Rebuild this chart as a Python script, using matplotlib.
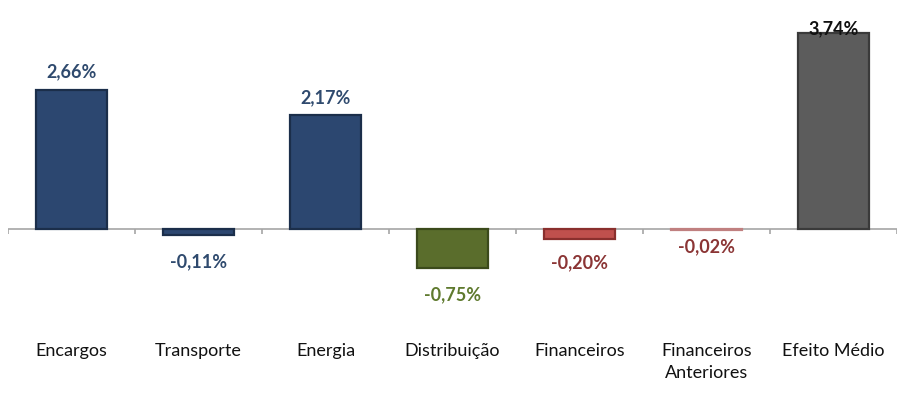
import matplotlib
matplotlib.use("Agg")
import matplotlib.pyplot as plt

categories = ["Encargos", "Transporte", "Energia", "Distribuição", "Financeiros",
              "Financeiros\nAnteriores", "Efeito Médio"]
values = [2.66, -0.11, 2.17, -0.75, -0.20, -0.02, 3.74]
labels = ["2,66%", "-0,11%", "2,17%", "-0,75%", "-0,20%", "-0,02%", "3,74%"]

bar_colors = ["#2C4770", "#2C4770", "#2C4770", "#5A6D2C", "#C0504D", "#D9A3A2", "#5C5C5C"]
edge_colors = ["#1B2E4A", "#1B2E4A", "#1B2E4A", "#3B4A1B", "#8A2F2D", "#C08080", "#3A3A3A"]
text_colors = ["#2F4A6E", "#2F4A6E", "#2F4A6E", "#5F7A2E", "#8B3535", "#8B3535", "#111111"]

plt.rcParams['font.family'] = ['Lato', 'DejaVu Sans']

fig = plt.figure(figsize=(9.08, 4.03), dpi=100)
ax = fig.add_axes([8/908, 0.1593, 889/908, 0.9509 - 0.1593])

x = list(range(len(categories)))
ax.bar(x, values, width=0.56, color=bar_colors, edgecolor=edge_colors, linewidth=1.6, zorder=3)

ax.set_xlim(-0.5, len(categories) - 0.5)
ax.set_ylim(-2.1, 4.0)
for s in ax.spines.values():
    s.set_visible(False)
ax.axhline(0, color="#A6A6A6", linewidth=1.2, zorder=2)
ax.vlines([i - 0.5 for i in range(len(categories) + 1)], -0.1, 0, color="#A6A6A6", linewidth=1.2, zorder=2)
ax.set_yticks([])
ax.set_xticks(x)
ax.set_xticklabels(categories, fontsize=13, color="#111111", linespacing=1.45, va="top")
ax.tick_params(axis="x", length=0, pad=3)

offsets = [7, 13, 7, 13, 11, 6, -3]
for xi, v, lab, c, off in zip(x, values, labels, text_colors, offsets):
    if v >= 0:
        ax.annotate(lab, (xi, v), xytext=(0, off), textcoords="offset points",
                    ha="center", va="bottom", fontsize=13, fontweight="bold", color=c, zorder=4)
    else:
        ax.annotate(lab, (xi, v), xytext=(0, -off), textcoords="offset points",
                    ha="center", va="top", fontsize=13, fontweight="bold", color=c, zorder=4)

fig.savefig("out.png", dpi=100)
